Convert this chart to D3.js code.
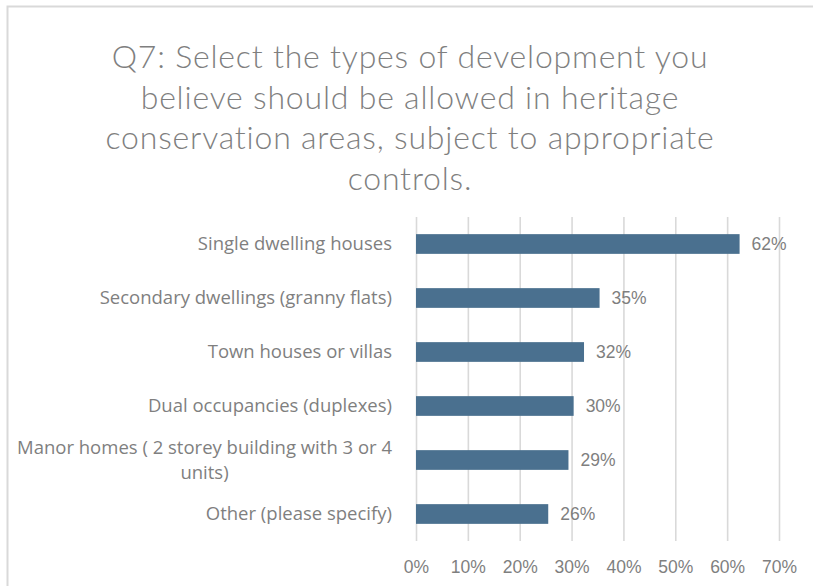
<!DOCTYPE html>
<html>
<head>
<meta charset="utf-8">
<script src="https://cdn.jsdelivr.net/npm/d3@7"></script>
<style>
  body { margin: 0; background: #fff; }
  svg { display: block; }
</style>
</head>
<body>
<div id="chart"></div>
<script>
// Data
const titleLines = [
    'Q7: Select the types of development you',
    'believe should be allowed in heritage',
    'conservation areas, subject to appropriate',
    'controls.'
]
const categories = [
    'Single dwelling houses',
    'Secondary dwellings (granny flats)',
    'Town houses or villas',
    'Dual occupancies (duplexes)',
    'Manor homes ( 2 storey building with 3 or 4 units)',
    'Other (please specify)'
]
const values = [0.624, 0.354, 0.324, 0.304, 0.294, 0.255]
const xTicks = [0, 0.1, 0.2, 0.3, 0.4, 0.5, 0.6, 0.7]

// SVG Node
const width = 813
const height = 586
const svg = d3.select('#chart').append('svg')
    .attr('width', width)
    .attr('height', height)

svg.append('rect')
    .attr('width', width).attr('height', height)
    .attr('fill', '#fff')

// outer chart border (runs off the right and bottom)
svg.append('rect')
    .attr('x', 7.5).attr('y', 6.5)
    .attr('width', 840).attr('height', 620)
    .attr('fill', 'none')
    .attr('stroke', '#d9d9d9')
    .attr('stroke-width', 2)

const textColor = '#7f7f7f'
const margin = { top: 217, right: 34, bottom: 45, left: 416 }
const plotBottom = height - margin.bottom

// Title
svg.append('g')
    .selectAll('text')
    .data(titleLines)
    .join('text')
    .attr('x', 410)
    .attr('y', (d, i) => 57 + i * 40.5)
    .attr('dy', '0.35em')
    .attr('text-anchor', 'middle')
    .attr('fill', textColor)
    .style('font-family', 'Lato, sans-serif')
    .style('font-weight', 300)
    .style('font-size', '32px')
    .style('letter-spacing', '0.8px')
    .text(d => d)

// Scale
const x = d3.scaleLinear()
    .domain([0, 0.7])
    .range([margin.left, width - margin.right])
const y = d3.scaleBand()
    .domain(categories)
    .range([margin.top, plotBottom])
    .paddingInner(0.635)
    .paddingOuter(0.3175)

// Grid + x axis
const xAxis = d3.axisBottom(x)
    .tickValues(xTicks)
    .tickFormat(d3.format('.0%'))
    .tickSizeInner(-(plotBottom - margin.top))
    .tickSizeOuter(0)

const gx = svg.append('g')
    .attr('transform', `translate(0, ${plotBottom})`)
    .call(xAxis)
gx.select('.domain').remove()
gx.selectAll('line')
    .attr('stroke', '#d9d9d9')
    .attr('stroke-width', 1.6)
gx.selectAll('text')
    .attr('y', 26)
    .attr('dy', '0.35em')
    .attr('fill', textColor)
    .style('font-family', '"Liberation Sans", Arial, sans-serif')
    .style('font-size', '17.5px')

// Bars
svg.append('g')
    .selectAll('rect')
    .data(categories)
    .join('rect')
    .attr('x', x(0))
    .attr('y', d => y(d))
    .attr('width', (d, i) => x(values[i]) - x(0))
    .attr('height', y.bandwidth())
    .attr('fill', '#4a708f')

// Data labels
svg.append('g')
    .selectAll('text')
    .data(categories)
    .join('text')
    .attr('x', (d, i) => x(values[i]) + 12)
    .attr('y', d => y(d) + y.bandwidth() / 2)
    .attr('dy', '0.35em')
    .attr('fill', textColor)
    .style('font-family', '"Liberation Sans", Arial, sans-serif')
    .style('font-size', '17.5px')
    .text((d, i) => d3.format('.0%')(values[i]))

// Category labels, wrapped Excel-style (lines centred inside a right-aligned block)
const labelRight = 392
const labelWidth = 385
const lineHeight = 25
const labels = svg.append('g')
    .style('font-family', '"Open Sans", sans-serif')
    .style('font-size', '18.5px')
    .attr('fill', textColor)

categories.forEach(cat => {
    const t = labels.append('text').attr('text-anchor', 'middle')
    const words = cat.split(' ')
    let lines = []
    let line = []
    const probe = labels.append('text')
    words.forEach(w => {
        const next = line.concat(w)
        probe.text(next.join(' '))
        if (line.length && probe.node().getComputedTextLength() > labelWidth) {
            lines.push(line.join(' '))
            line = [w]
        } else {
            line = next
        }
    })
    lines.push(line.join(' '))
    const widths = lines.map(l => { probe.text(l); return probe.node().getComputedTextLength() })
    probe.remove()
    const blockW = d3.max(widths)
    const cy = y(cat) + y.bandwidth() / 2
    const y0 = cy - (lines.length - 1) * lineHeight / 2
    t.selectAll('tspan')
        .data(lines)
        .join('tspan')
        .attr('x', labelRight - blockW / 2)
        .attr('y', (d, i) => y0 + i * lineHeight)
        .attr('dy', '0.35em')
        .text(d => d)
})
</script>
</body>
</html>
